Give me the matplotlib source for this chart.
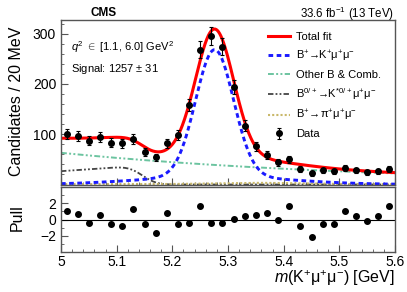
import math
import numpy as np
import matplotlib
matplotlib.use('Agg')
import matplotlib.pyplot as plt
from matplotlib.ticker import MultipleLocator, FixedLocator, FuncFormatter

plt.rcParams['font.family'] = ['Liberation Sans', 'DejaVu Sans']
plt.rcParams['mathtext.fontset'] = 'custom'
plt.rcParams['mathtext.rm'] = 'Liberation Sans'
plt.rcParams['mathtext.it'] = 'Liberation Sans:italic'
plt.rcParams['mathtext.bf'] = 'Liberation Sans:bold'

# ---- data ----
bin_centers = [5.01, 5.03, 5.05, 5.07, 5.09, 5.11, 5.13, 5.15, 5.17, 5.19,
               5.21, 5.23, 5.25, 5.27, 5.29, 5.31, 5.33, 5.35, 5.37, 5.39,
               5.41, 5.43, 5.45, 5.47, 5.49, 5.51, 5.53, 5.55, 5.57, 5.59]
counts = [100, 97, 87, 94, 83, 82, 91, 65, 54, 82,
          99, 158, 268, 295, 274, 193, 117, 76, 59, 44,
          50, 31, 22, 28, 26, 33, 28, 24, 26, 31]
pulls = [1.0, 0.73, -0.37, 0.6, -0.6, -0.86, 1.35, -0.57, -1.68, 0.8,
         -0.57, -0.37, 1.67, -0.45, -0.45, 0.04, 0.49, 0.6, 0.86, -0.08,
         1.67, -0.86, -2.1, -0.53, -0.61, 1.06, 0.37, -0.2, 0.4, 1.63]
upper_yticks = [100, 200, 300]
pull_yticks = [-2, 0, 2]

# ---- fit model component parameters (estimated from the drawn curves) ----
sig_mean, sig_sigma1, sig_amp1, sig_sigma2, sig_amp2 = 5.276, 0.034, 252.0, 0.13, 16.0
comb_amp, comb_slope = 63.0, 1.75
kst_a, kst_b, kst_edge, kst_res = 26.5, 77.0, 5.145, 0.02
pi_base, pi_amp, pi_mean, pi_sigma = 0.8, 2.5, 5.35, 0.07

mgrid = np.linspace(5.0, 5.6, 601)
erfc = np.vectorize(math.erfc)
signal = (sig_amp1 * np.exp(-0.5 * ((mgrid - sig_mean) / sig_sigma1) ** 2)
          + sig_amp2 * np.exp(-0.5 * ((mgrid - sig_mean) / sig_sigma2) ** 2))
comb = comb_amp * np.exp(-comb_slope * (mgrid - 5.0))
kstar = (kst_a + kst_b * (mgrid - 5.0)) * 0.5 * erfc((mgrid - kst_edge) / (math.sqrt(2) * kst_res))
pimumu = pi_base + pi_amp * np.exp(-0.5 * ((mgrid - pi_mean) / pi_sigma) ** 2)
total = signal + comb + kstar + pimumu

# ---- figure ----
W, H = 407, 292
fig = plt.figure(figsize=(W / 100, H / 100), dpi=100)

def px_axes(l, t, r, b):
    return fig.add_axes([l / W, 1 - b / H, (r - l) / W, (b - t) / H])

ax = px_axes(61, 20, 395, 184.5)
axp = px_axes(61, 187, 395, 252)

c_red = '#ff0000'
c_blue = '#1a1aff'
c_green = '#6cc4a0'
c_kst = '#444444'
c_pi = '#c9b86a'

l_comb, = ax.plot(mgrid, comb, color=c_green, lw=1.4, ls=(0, (3, 1.2, 1, 1.2, 1, 1.2)))
l_kst, = ax.plot(mgrid, kstar, color=c_kst, lw=1.3, ls=(0, (3, 1.2, 1, 1.2, 1, 1.2)))
l_pi, = ax.plot(mgrid, pimumu, color=c_pi, lw=1.5, ls=(0, (1, 1)))
l_sig, = ax.plot(mgrid, signal, color=c_blue, lw=2.1, ls=(0, (1.6, 1.2)))
l_tot, = ax.plot(mgrid, total, color=c_red, lw=2.2)
eb = ax.errorbar(bin_centers, counts, yerr=np.sqrt(counts), fmt='o', color='black',
                 ms=4, capsize=1.5, elinewidth=0.8, capthick=0.8, zorder=5)

ax.set_xlim(5.0, 5.6)
ax.set_ylim(0, 327)
ax.yaxis.set_major_locator(FixedLocator(upper_yticks))
ax.yaxis.set_minor_locator(MultipleLocator(20))
ax.xaxis.set_major_locator(MultipleLocator(0.1))
ax.xaxis.set_minor_locator(MultipleLocator(0.02))
ax.tick_params(axis='x', labelbottom=False)

axp.plot(bin_centers, pulls, 'o', color='black', ms=4)
axp.axhline(0, color='black', lw=0.8)
axp.set_xlim(5.0, 5.6)
axp.set_ylim(-4, 4)
axp.yaxis.set_major_locator(FixedLocator(pull_yticks))
axp.yaxis.set_minor_locator(MultipleLocator(1))
axp.xaxis.set_major_locator(MultipleLocator(0.1))
axp.xaxis.set_minor_locator(MultipleLocator(0.02))
axp.xaxis.set_major_formatter(FuncFormatter(lambda v, p: f'{v:g}'))

for a in (ax, axp):
    for s in a.spines.values():
        s.set_color('#555555')
        s.set_linewidth(1.0)
    a.tick_params(which='both', direction='in', colors='#555555', labelcolor='black',
                  labelsize=10, top=False, right=False)
    a.tick_params(which='major', length=5, width=0.8)
    a.tick_params(which='minor', length=2.5, width=0.6)
axp.tick_params(axis='x', pad=2)

# ---- legend ----
handles = [l_tot, l_sig, l_comb, l_kst, l_pi, eb]
labels = ['Total fit',
          r'B$^{+}\!\rightarrow\!\!$K$^{+}\mathrm{\mu}^{+}\mathrm{\mu}^{-}$',
          'Other B & Comb.',
          r'B$^{0/+}\!\rightarrow\!\!$K$^{*0/+}\mathrm{\mu}^{+}\mathrm{\mu}^{-}$',
          r'B$^{+}\!\rightarrow\!\mathrm{\pi}^{+}\mathrm{\mu}^{+}\mathrm{\mu}^{-}$',
          'Data']
leg = ax.legend(handles, labels, loc='upper left', bbox_to_anchor=(0.62, 0.925),
                frameon=False, fontsize=8, handlelength=2.0, handletextpad=0.5,
                labelspacing=0.55, borderpad=0, borderaxespad=0)

# ---- texts ----
def ftext(x, y, s, **kw):
    fig.text(x / W, 1 - y / H, s, **kw)

ftext(104, 13.5, 'CMS', fontsize=8.5, fontweight='bold', ha='center', va='center')
ftext(394, 13.5, r'33.6 fb$^{-1}$ (13 TeV)', fontsize=8.3, ha='right', va='center')
ftext(71, 47, r'$q^{2}$ $\in$ [1.1, 6.0] GeV$^{2}$', fontsize=8, ha='left', va='center')
ftext(71, 69, r'Signal: 1257 $\pm$ 31', fontsize=8, ha='left', va='center')
ftext(17, 101, 'Candidates / 20 MeV', fontsize=11.5, rotation=90, ha='center', va='center')
ftext(17, 218, 'Pull', fontsize=11.5, rotation=90, ha='center', va='center')
ftext(395, 278, r'$m$(K$^{+}\mathrm{\mu}^{+}\mathrm{\mu}^{-}$) [GeV]', fontsize=11.5,
      ha='right', va='center')

fig.savefig('out.png', dpi=100)
